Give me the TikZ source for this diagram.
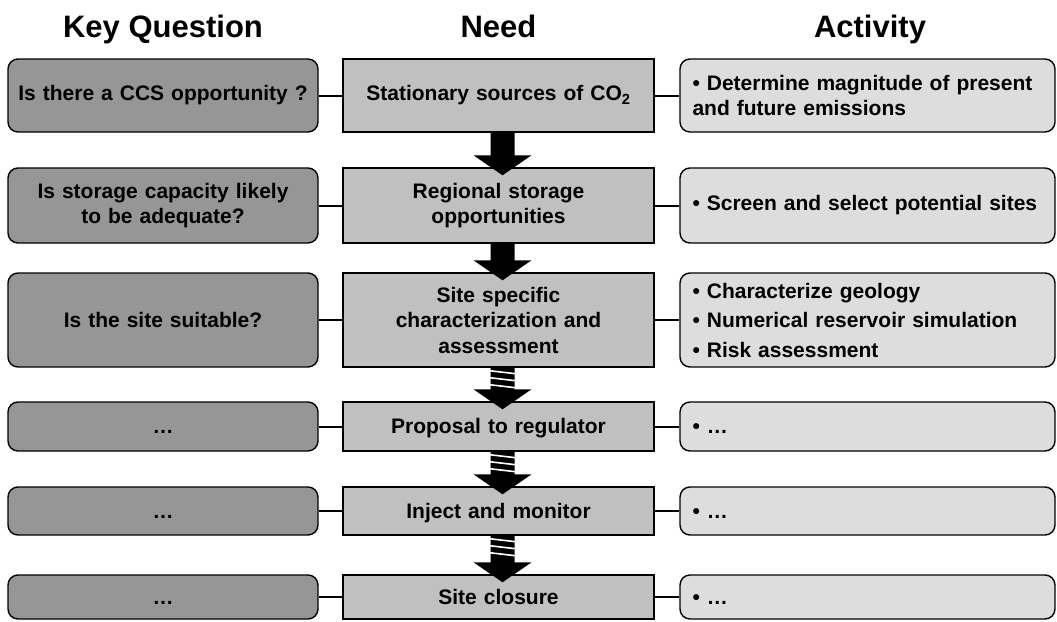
\documentclass[tikz,border=0pt]{standalone}
\usepackage{fontspec}
\setmainfont{Liberation Sans}
\usetikzlibrary{calc}
\definecolor{qgray}{HTML}{969696}
\definecolor{ngray}{HTML}{C0C0C0}
\definecolor{agray}{HTML}{DDDDDD}

\begin{document}
\begin{tikzpicture}[
    x=1pt,y=-1pt,
    head/.style  = {font=\fontsize{31}{36}\selectfont\bfseries,anchor=base},
    quest/.style = {rectangle,rounded corners=10pt,draw=black,fill=qgray,
                    line width=1.4pt,align=center,inner sep=0pt,
                    font=\fontsize{21}{25}\selectfont\bfseries,
                    minimum width=310pt,text width=290pt},
    need/.style  = {rectangle,draw=black,fill=ngray,line width=1.4pt,
                    align=center,inner sep=0pt,
                    font=\fontsize{21}{25.5}\selectfont\bfseries,
                    minimum width=311pt,text width=295pt},
    act/.style   = {rectangle,rounded corners=10pt,draw=black,fill=agray,
                    line width=1.4pt,align=left,inner sep=0pt,
                    font=\fontsize{21}{25}\selectfont\bfseries,
                    minimum width=375pt,text width=350pt},
    oneline/.style = {text height=16pt,text depth=2pt},
    lnk/.style   = {line width=2pt},
    blk/.style   = {fill=black},
    cut/.style   = {draw=white,line width=1.6pt},
  ]

  \useasboundingbox (0,0) rectangle (1057,621);

  % column titles
  \node[head] (hq) at (163,37)   {Key Question};
  \node[head] (hn) at (498.5,37) {Need};
  \node[head] (ha) at (870,37)   {Activity};

  % rows: question | need | activity
  \node[quest,minimum height=73pt] (q1) at (163,95.5)
       {Is there a CCS opportunity ?};
  \node[need,minimum height=73pt]  (n1) at (498.5,95.5)
       {Stationary sources of CO\textsubscript{2}};
  \node[act,minimum height=73pt]   (a1) at (867.5,95.5)
       {• Determine magnitude of present\\and future emissions};

  \node[quest,minimum height=75pt] (q2) at (163,205.5)
       {Is storage capacity likely\\to be adequate?};
  \node[need,minimum height=75pt]  (n2) at (498.5,205.5)
       {Regional storage\\opportunities};
  \node[act,minimum height=75pt]   (a2) at (867.5,205.5)
       {• Screen and select potential sites};

  \node[quest,minimum height=94pt] (q3) at (163,320)
       {Is the site suitable?};
  \node[need,minimum height=94pt]  (n3) at (498.5,320)
       {Site specific\\characterization and\\assessment};
  \node[act,minimum height=94pt]   (a3) at (867.5,320)
       {• Characterize geology\\[4.5pt]• Numerical reservoir simulation\\[4.5pt]%
        • Risk assessment};

  \node[quest,oneline,minimum height=49pt] (q4) at (163,426.5) {…};
  \node[need,oneline,minimum height=49pt]  (n4) at (498.5,426.5) {Proposal to regulator};
  \node[act,oneline,minimum height=49pt]   (a4) at (867.5,426.5) {• …};

  \node[quest,oneline,minimum height=48pt] (q5) at (163,511) {…};
  \node[need,oneline,minimum height=48pt]  (n5) at (498.5,511) {Inject and monitor};
  \node[act,oneline,minimum height=48pt]   (a5) at (867.5,511) {• …};

  \node[quest,oneline,minimum height=44pt] (q6) at (163,597) {…};
  \node[need,oneline,minimum height=44pt]  (n6) at (498.5,597) {Site closure};
  \node[act,oneline,minimum height=44pt]   (a6) at (867.5,597) {• …};

  \draw[lnk] (q1) -- (n1);  \draw[lnk] (n1) -- (a1);
  \draw[lnk] (q2) -- (n2);  \draw[lnk] (n2) -- (a2);
  \draw[lnk] (q3) -- (n3);  \draw[lnk] (n3) -- (a3);
  \draw[lnk] (q4) -- (n4);  \draw[lnk] (n4) -- (a4);
  \draw[lnk] (q5) -- (n5);  \draw[lnk] (n5) -- (a5);
  \draw[lnk] (q6) -- (n6);  \draw[lnk] (n6) -- (a6);

  % block arrows down the need column
  \foreach \a/\b in {n1/n2,n2/n3,n3/n4,n4/n5,n5/n6}
    \fill[blk] ($(\a.south)+(-8,0)$) -- ($(\b.north)+(-8,-12)$)
               -- ($(\b.north)+(-25,-12)$) -- ($(\b.north)+(4,8)$)
               -- ($(\b.north)+(33,-12)$) -- ($(\b.north)+(16,-12)$)
               -- ($(\a.south)+(16,0)$) -- cycle;

  % stripes on the later steps
  \foreach \a in {n3,n4,n5}
    \foreach \d in {4.5,11.5,18.5}
      \draw[cut] ($(\a.south)+(-9,\d-1.5)$) -- ($(\a.south)+(17,\d+1.5)$);

\end{tikzpicture}
\end{document}
